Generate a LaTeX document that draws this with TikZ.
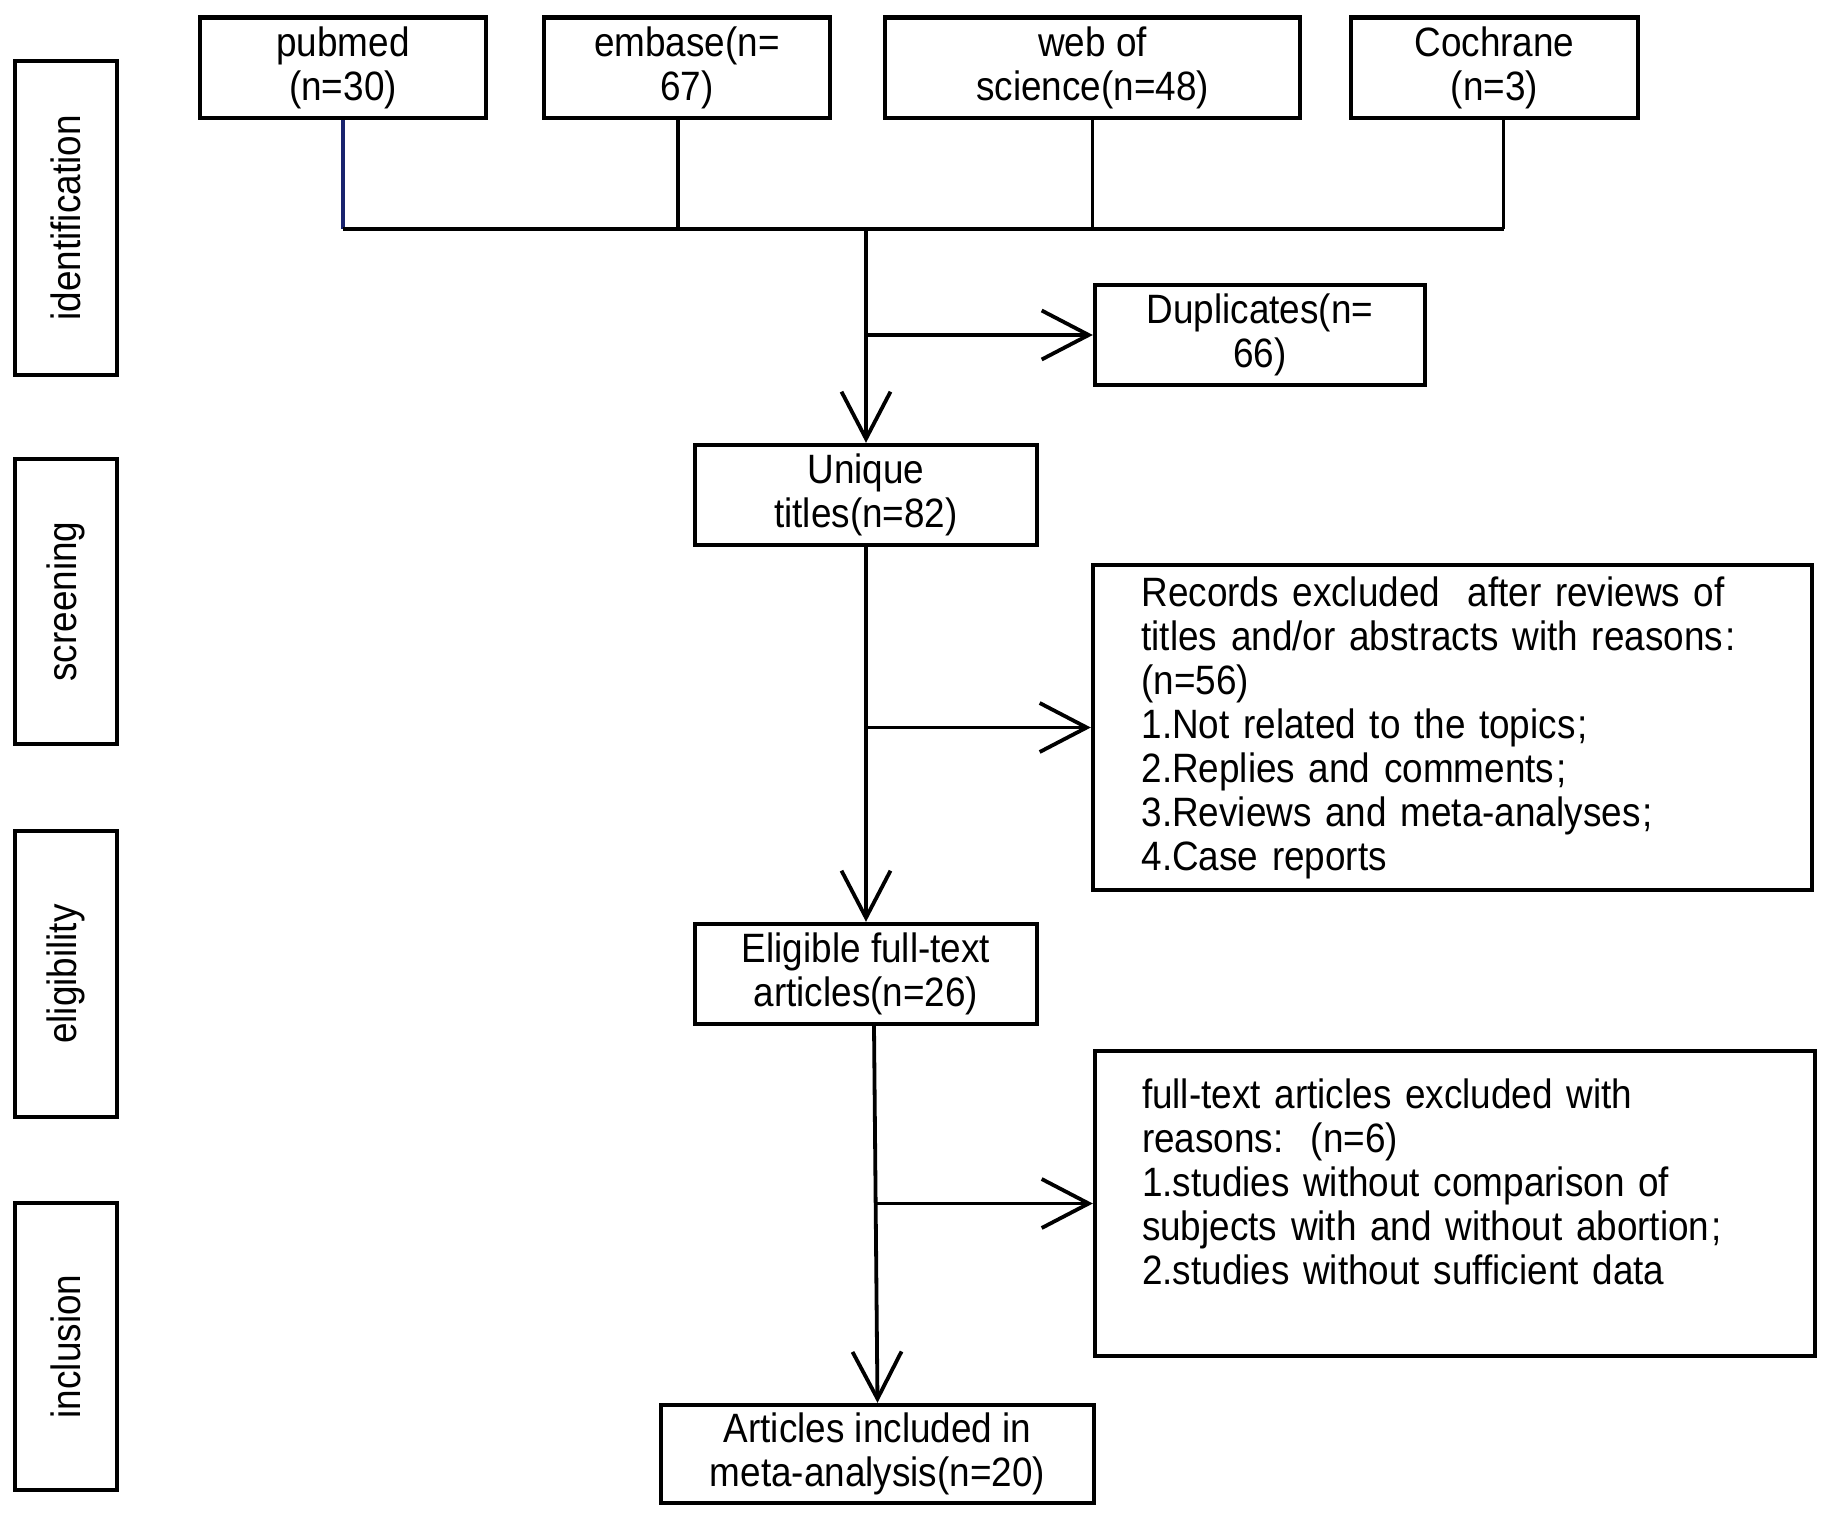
\documentclass[tikz,border=0pt]{standalone}
\usepackage{fontspec}
\setmainfont{Liberation Sans}[FakeStretch=0.9]
\usetikzlibrary{arrows.meta}
\definecolor{navyline}{RGB}{25,35,110}
\tikzset{
  box/.style={draw, line width=2.2pt, align=center, inner sep=0pt, font=\fontsize{20.5}{22}\selectfont},
  conn/.style={line width=1.9pt},
  arr/.style={conn, -{Straight Barb[length=23.5pt, width=24.5pt]}},
}
\begin{document}
\begin{tikzpicture}[x=0.5pt,y=-0.5pt]
\useasboundingbox (0,0) rectangle (1831,1520);
% stage labels
\node[box, minimum width=51pt, minimum height=157pt] (sid) at (66,218) {\rotatebox{90}{identification}};
\node[box, minimum width=51pt, minimum height=142.5pt] (sscr) at (66,601.5) {\rotatebox{90}{screening}};
\node[box, minimum width=51pt, minimum height=143pt] (selig) at (66,974) {\rotatebox{90}{eligibility}};
\node[box, minimum width=51pt, minimum height=143.5pt] (sinc) at (66,1346.5) {\rotatebox{90}{inclusion}};
% sources
\node[box, minimum width=143pt, minimum height=50.25pt] (pubmed) at (343,67.75) {pubmed\\(n=30)};
\node[box, minimum width=143pt, minimum height=50.25pt] (embase) at (687,67.75) {embase(n=\\67)};
\node[box, minimum width=207.5pt, minimum height=50.25pt] (wos) at (1092.5,67.75) {web of\\science(n=48)};
\node[box, minimum width=143.5pt, minimum height=50.25pt] (cochrane) at (1494.5,67.75) {Cochrane\\(n=3)};
% flow
\node[box, minimum width=165pt, minimum height=50pt] (dup) at (1260,335) {Duplicates(n=\\66)};
\node[box, minimum width=171pt, minimum height=50pt] (unique) at (866,495) {Unique\\titles(n=82)};
\node[box, minimum width=359.5pt, minimum height=162.5pt, text width=311pt, align=left] (records) at (1452.5,727.5)
  {Records excluded\ \ after reviews of\\titles and/or abstracts with reasons\kern1pt:\\(n=56)\\1.Not related to the topics\kern1pt;\\2.Replies and comments\kern1pt;\\3.Reviews and meta-analyses\kern1pt;\\4.Case reports};
\node[box, minimum width=171pt, minimum height=50pt] (eligible) at (866,974) {Eligible full-text\\articles(n=26)};
\node[box, minimum width=360pt, minimum height=152.5pt, text width=313pt, align=left] (fulltext) at (1455,1203.5)
  {full-text articles excluded with\\reasons:\ \ (n=6)\\1.studies without comparison of\\subjects with and without abortion\kern1pt;\\2.studies without sufficient data\\\mbox{}};
\node[box, minimum width=216.5pt, minimum height=49pt] (articles) at (877.5,1454) {Articles included in\\meta-analysis(n=20)};
% connectors
\coordinate (j) at (866,229);
\draw[conn, navyline] (pubmed.south) -- (pubmed.south |- j);
\draw[conn] (pubmed.south |- j) -- ([xshift=4.5pt]cochrane.south |- j);
\draw[conn] ([xshift=-4.5pt]embase.south) -- ([xshift=-4.5pt]embase.south |- j);
\draw[conn] (wos.south) -- (wos.south |- j);
\draw[conn] ([xshift=4.5pt]cochrane.south) -- ([xshift=4.5pt]cochrane.south |- j);
\draw[arr] (j) -- (unique.north);
\draw[arr] (j |- dup.west) -- (dup.west);
\draw[arr] (unique.south) -- (eligible.north);
\draw[arr] (unique.south |- records.west) -- (records.west);
\draw[arr] ([xshift=4pt]eligible.south) -- (articles.north);
\draw[arr] ([xshift=-0.5pt]articles.north |- fulltext.west) -- (fulltext.west);
\end{tikzpicture}
\end{document}
